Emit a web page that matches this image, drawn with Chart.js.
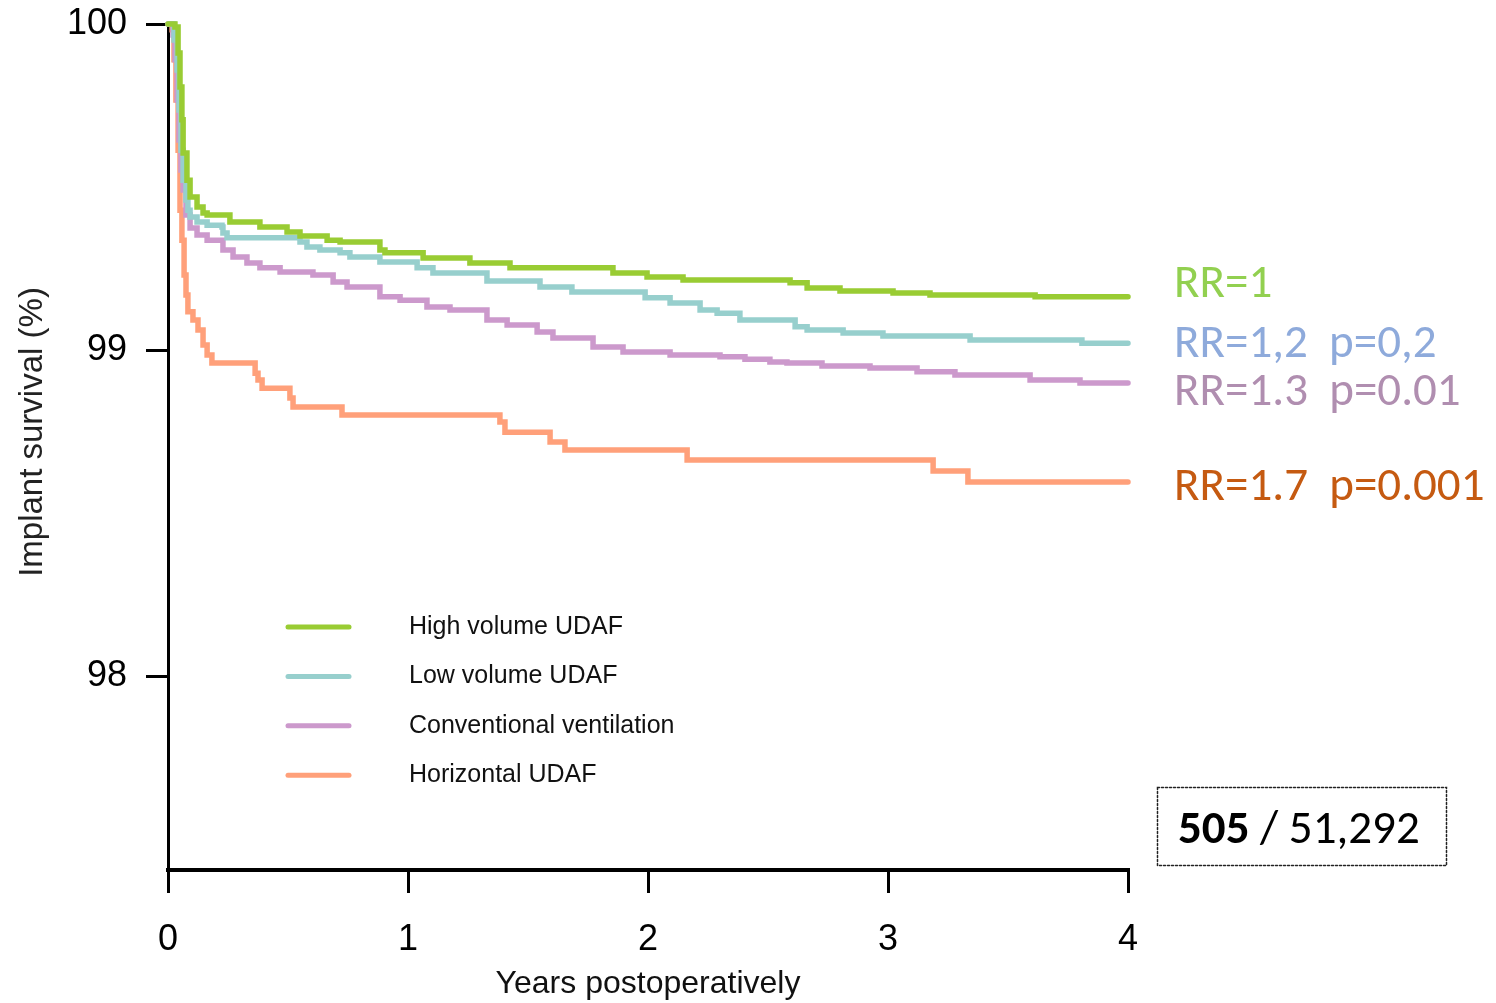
<!DOCTYPE html>
<html><head><meta charset="utf-8">
<script src="https://cdn.jsdelivr.net/npm/chart.js@4.4.1/dist/chart.umd.min.js"></script>
<style>html,body{margin:0;padding:0;background:#fff;}#wrap{width:1496px;height:1003px;}</style>
</head><body><div id="wrap"><canvas id="c" width="1496" height="1003"></canvas></div>
<script>
// ---- data (years postoperatively, implant survival %) ----
const seriesNames = ['High volume UDAF', 'Low volume UDAF', 'Conventional ventilation', 'Horizontal UDAF'];

const highTimes = [0,0.029,0.042,0.050,0.058,0.063,0.079,0.092,0.121,0.146,0.163,0.258,0.383,0.496,0.550,0.663,0.717,0.883,0.904,1.063,1.258,1.425,1.854,1.996,2.146,2.592,2.663,2.800,3.021,3.175,3.613,4.0];
const highSurv  = [100,99.991,99.911,99.807,99.706,99.604,99.521,99.469,99.439,99.420,99.414,99.393,99.377,99.362,99.350,99.337,99.331,99.307,99.298,99.282,99.267,99.252,99.236,99.224,99.215,99.206,99.190,99.181,99.175,99.169,99.163,99.163];

const lowTimes = [0,0.025,0.038,0.046,0.054,0.063,0.075,0.083,0.092,0.121,0.163,0.225,0.229,0.246,0.550,0.579,0.633,0.717,0.758,0.883,1.038,1.104,1.329,1.550,1.683,1.988,2.092,2.217,2.288,2.383,2.613,2.663,2.813,2.979,3.342,3.808,4.0];
const lowSurv  = [100,99.951,99.859,99.736,99.613,99.521,99.460,99.429,99.408,99.393,99.383,99.377,99.359,99.344,99.331,99.316,99.307,99.298,99.285,99.270,99.252,99.236,99.212,99.193,99.178,99.160,99.144,99.123,99.113,99.092,99.071,99.061,99.052,99.043,99.031,99.021,99.021];

const convTimes = [0,0.021,0.029,0.038,0.046,0.054,0.063,0.075,0.092,0.121,0.163,0.229,0.271,0.329,0.383,0.467,0.604,0.688,0.746,0.883,0.967,1.079,1.175,1.329,1.413,1.538,1.604,1.771,1.896,2.092,2.300,2.404,2.508,2.579,2.725,2.925,3.121,3.279,3.592,3.800,4.0];
const convSurv  = [100,99.966,99.890,99.767,99.644,99.552,99.491,99.414,99.374,99.353,99.337,99.307,99.285,99.267,99.252,99.239,99.230,99.209,99.193,99.163,99.153,99.132,99.123,99.092,99.077,99.055,99.037,99.009,98.994,98.985,98.979,98.972,98.963,98.960,98.951,98.945,98.933,98.923,98.908,98.899,98.899];

const horizTimes = [0,0.017,0.025,0.033,0.042,0.050,0.058,0.067,0.075,0.083,0.104,0.125,0.146,0.163,0.183,0.363,0.375,0.392,0.508,0.521,0.725,1.383,1.404,1.592,1.654,2.163,3.188,3.333,4.0];
const horizSurv  = [100,99.982,99.890,99.767,99.613,99.429,99.337,99.230,99.169,99.117,99.092,99.061,99.015,98.985,98.960,98.929,98.908,98.883,98.853,98.825,98.801,98.779,98.748,98.718,98.693,98.663,98.629,98.595,98.595];

const xTicks = [0, 1, 2, 3, 4];
const yTicks = [98, 99, 100];
const rrLabels = ['RR=1', 'RR=1,2  p=0,2', 'RR=1.3  p=0.01', 'RR=1.7  p=0.001'];
const eventsText = '505';
const totalText = ' / 51,292';
const xTitle = 'Years postoperatively';
const yTitle = 'Implant survival (%)';

// ---- styles ----
const lineColors = ['#99cc33', '#97cfcd', '#cc99cc', '#ffa07a'];
const rrColors = ['#92d050', '#8eaadb', '#b08eb0', '#c55a11'];
const sans = "'Liberation Sans', Arial, sans-serif";
const calib = "Carlito, Calibri, Lato, 'Open Sans', sans-serif";

function pts(t, s) { return t.map((v, i) => ({x: v, y: s[i]})); }
const allT = [highTimes, lowTimes, convTimes, horizTimes];
const allS = [highSurv, lowSurv, convSurv, horizSurv];

const datasets = seriesNames.map((n, i) => ({
  label: n,
  data: pts(allT[i], allS[i]),
  borderColor: lineColors[i],
  backgroundColor: lineColors[i],
  borderWidth: 5.5,
  stepped: true,
  pointRadius: 0,
  fill: false,
  clip: false,
  borderCapStyle: 'round',
  borderJoinStyle: 'miter'
}));

const extras = {
  id: 'extras',
  afterDraw(chart) {
    const ctx = chart.ctx;
    ctx.save();
    // y axis title
    ctx.save();
    ctx.translate(33, 432);
    ctx.rotate(-Math.PI / 2);
    ctx.fillStyle = '#222';
    ctx.font = '33px ' + sans;
    ctx.textAlign = 'center';
    ctx.textBaseline = 'middle';
    ctx.fillText(yTitle, 0, 0);
    ctx.restore();
    // legend
    const lx1 = 288, lx2 = 349, ly0 = 627, ldy = 49.4;
    chart.data.datasets.forEach((ds, i) => {
      const y = ly0 + i * ldy;
      ctx.strokeStyle = ds.borderColor;
      ctx.lineWidth = 5;
      ctx.lineCap = 'round';
      ctx.beginPath(); ctx.moveTo(lx1, y); ctx.lineTo(lx2, y); ctx.stroke();
      ctx.fillStyle = '#111';
      ctx.font = '25px ' + sans;
      ctx.textBaseline = 'middle';
      ctx.textAlign = 'left';
      ctx.fillText(ds.label, 409, y);
    });
    // RR annotations
    const rrBase = [297, 357, 405, 500];
    ctx.font = '47px ' + calib;
    ctx.textBaseline = 'alphabetic';
    ctx.textAlign = 'left';
    rrLabels.forEach((t, i) => {
      ctx.fillStyle = rrColors[i];
      ctx.fillText(t, 1174, rrBase[i]);
    });
    // box
    ctx.setLineDash([2, 2]);
    ctx.lineWidth = 1.5;
    ctx.strokeStyle = '#222';
    ctx.strokeRect(1157.5, 787.5, 289, 78);
    ctx.setLineDash([]);
    ctx.fillStyle = '#000';
    ctx.font = 'bold 47px ' + calib;
    ctx.fillText(eventsText, 1178, 843);
    const w = ctx.measureText(eventsText).width;
    ctx.font = '47px ' + calib;
    ctx.fillText(totalText, 1178 + w, 843);
    ctx.restore();
  }
};

new Chart(document.getElementById('c'), {
  type: 'line',
  data: { datasets },
  options: {
    responsive: false,
    animation: false,
    devicePixelRatio: 1,
    layout: { padding: { left: 0, top: 24, right: 368, bottom: 0 } },
    plugins: { legend: { display: false }, tooltip: { enabled: false } },
    scales: {
      x: {
        type: 'linear', min: 0, max: 4,
        afterFit(s) { s.height = 133; s.paddingLeft = 0; s.paddingRight = 0; },
        afterBuildTicks(s) { s.ticks = xTicks.map(v => ({value: v})); },
        grid: { drawOnChartArea: false, drawTicks: true, tickLength: 23, color: '#000', lineWidth: 3, tickWidth: 3, tickColor: '#000' },
        border: { display: true, color: '#000', width: 4 },
        ticks: { color: '#000', font: { family: sans, size: 36 }, padding: 25, maxRotation: 0 },
        title: { display: true, text: xTitle, color: '#111', font: { family: sans, size: 32 }, padding: { top: 0, bottom: 0 } }
      },
      y: {
        type: 'linear', min: 97.405, max: 100,
        afterFit(s) { s.width = 168; s.paddingTop = 0; s.paddingBottom = 0; },
        afterBuildTicks(s) { s.ticks = yTicks.map(v => ({value: v})); },
        grid: { drawOnChartArea: false, drawTicks: true, tickLength: 22, color: '#000', lineWidth: 3, tickWidth: 3, tickColor: '#000' },
        border: { display: true, color: '#000', width: 3 },
        ticks: { color: '#000', font: { family: sans, size: 36 }, padding: 19 },
        title: { display: false }
      }
    }
  },
  plugins: [extras]
});
</script></body></html>
